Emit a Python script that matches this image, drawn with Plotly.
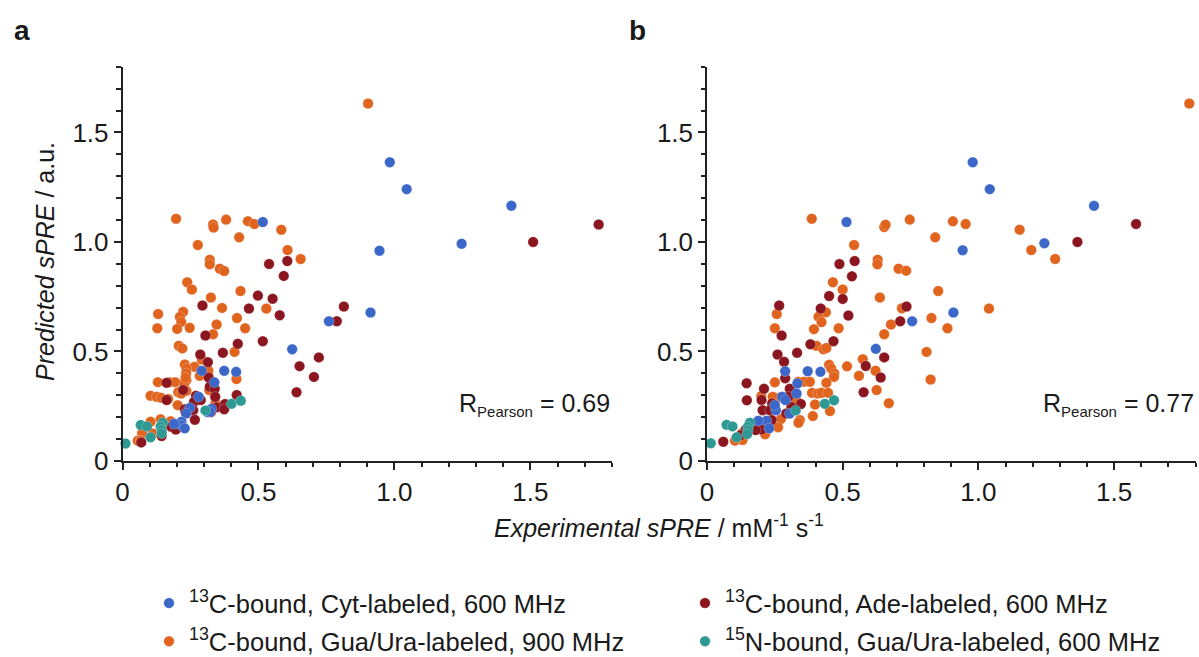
import plotly.graph_objects as go

W, H = 1199, 657

# ---------------- data ----------------
series_names = [
    "<sup>13</sup>C-bound, Cyt-labeled, 600 MHz",
    "<sup>13</sup>C-bound, Gua/Ura-labeled, 900 MHz",
    "<sup>13</sup>C-bound, Ade-labeled, 600 MHz",
    "<sup>15</sup>N-bound, Gua/Ura-labeled, 600 MHz",
]
series_colors = ["#3B67C9", "#E1641E", "#8C1620", "#2E9993"]

# Panel a
a_cyt_x = [0.983, 1.045, 1.430, 1.247, 0.945, 0.516, 0.759, 0.912, 0.624, 0.418, 0.374, 0.291, 0.338,
           0.280, 0.248, 0.234, 0.313, 0.327, 0.217, 0.215, 0.229, 0.144, 0.321, 0.190]
a_cyt_y = [1.364, 1.241, 1.165, 0.992, 0.960, 1.091, 0.638, 0.678, 0.510, 0.407, 0.412, 0.412, 0.359,
           0.293, 0.243, 0.217, 0.223, 0.238, 0.179, 0.164, 0.149, 0.131, 0.225, 0.170]

a_gua_x = [0.903, 0.655, 0.461, 0.485, 0.429, 0.584, 0.607, 0.434, 0.529, 0.421, 0.451, 0.412, 0.419,
           0.197, 0.333, 0.335, 0.381, 0.277, 0.321, 0.321, 0.358, 0.374, 0.238, 0.255, 0.325, 0.366,
           0.223, 0.131, 0.211, 0.216, 0.128, 0.201, 0.247, 0.346, 0.333, 0.207, 0.220, 0.292, 0.229,
           0.265, 0.235, 0.316, 0.234, 0.284, 0.235, 0.130, 0.174, 0.194, 0.227, 0.319, 0.205, 0.235,
           0.216, 0.103, 0.126, 0.142, 0.168, 0.203, 0.342, 0.177, 0.140, 0.103, 0.072, 0.111, 0.056,
           0.067, 0.232]
a_gua_y = [1.632, 0.922, 1.095, 1.082, 1.021, 1.056, 0.963, 0.776, 0.696, 0.653, 0.606, 0.498, 0.374,
           1.106, 1.080, 1.066, 1.102, 0.986, 0.919, 0.898, 0.878, 0.867, 0.816, 0.783, 0.746, 0.699,
           0.681, 0.671, 0.658, 0.635, 0.606, 0.603, 0.608, 0.623, 0.579, 0.526, 0.514, 0.463, 0.441,
           0.430, 0.422, 0.412, 0.400, 0.389, 0.369, 0.360, 0.360, 0.360, 0.354, 0.324, 0.314, 0.320,
           0.308, 0.298, 0.293, 0.289, 0.283, 0.255, 0.264, 0.182, 0.191, 0.179, 0.126, 0.126, 0.093,
           0.093, 0.380]

a_ade_x = [1.751, 1.510, 0.814, 0.788, 0.722, 0.651, 0.704, 0.640, 0.539, 0.606, 0.593, 0.498, 0.552,
           0.465, 0.578, 0.424, 0.516, 0.420, 0.294, 0.305, 0.369, 0.286, 0.314, 0.317, 0.162, 0.321,
           0.339, 0.223, 0.270, 0.341, 0.162, 0.263, 0.288, 0.346, 0.377, 0.374, 0.260, 0.229, 0.232,
           0.325, 0.266, 0.179, 0.196, 0.144, 0.069]
a_ade_y = [1.080, 1.000, 0.705, 0.638, 0.473, 0.433, 0.384, 0.314, 0.899, 0.913, 0.845, 0.755, 0.741,
           0.696, 0.665, 0.535, 0.547, 0.301, 0.710, 0.573, 0.494, 0.486, 0.451, 0.381, 0.357, 0.339,
           0.330, 0.324, 0.298, 0.293, 0.278, 0.270, 0.278, 0.245, 0.260, 0.236, 0.232, 0.236, 0.222,
           0.223, 0.188, 0.156, 0.144, 0.114, 0.085]

a_n15_x = [0.011, 0.067, 0.090, 0.103, 0.148, 0.140, 0.144, 0.144, 0.305, 0.401, 0.435]
a_n15_y = [0.080, 0.164, 0.158, 0.108, 0.175, 0.157, 0.141, 0.126, 0.231, 0.261, 0.275]

# Panel b
b_cyt_x = [0.979, 1.042, 1.426, 1.243, 0.942, 0.514, 0.908, 0.756, 0.622, 0.288, 0.371, 0.418, 0.333,
           0.330, 0.277, 0.289, 0.254, 0.250, 0.305, 0.219, 0.229, 0.189]
b_cyt_y = [1.364, 1.241, 1.165, 0.994, 0.962, 1.091, 0.678, 0.638, 0.512, 0.410, 0.410, 0.407, 0.354,
           0.308, 0.293, 0.278, 0.232, 0.255, 0.217, 0.184, 0.149, 0.184]

b_gua_x = [1.777, 1.195, 1.283, 1.152, 0.747, 0.906, 0.953, 0.653, 0.658, 0.841, 0.706, 0.734, 0.852,
           0.718, 0.827, 1.039, 0.678, 0.653, 0.886, 0.809, 0.824, 0.670, 0.386, 0.542, 0.629, 0.628,
           0.464, 0.500, 0.637, 0.257, 0.438, 0.411, 0.422, 0.250, 0.394, 0.485, 0.403, 0.429, 0.440,
           0.574, 0.516, 0.450, 0.458, 0.469, 0.468, 0.560, 0.621, 0.250, 0.336, 0.358, 0.379, 0.440,
           0.625, 0.387, 0.409, 0.422, 0.446, 0.398, 0.453, 0.390, 0.342, 0.337, 0.327, 0.200, 0.268,
           0.242, 0.272, 0.197, 0.195, 0.214, 0.262, 0.128, 0.131, 0.103]
b_gua_y = [1.632, 0.963, 0.922, 1.056, 1.102, 1.094, 1.082, 1.068, 1.079, 1.021, 0.878, 0.869, 0.776,
           0.697, 0.653, 0.696, 0.623, 0.579, 0.606, 0.498, 0.372, 0.264, 1.106, 0.986, 0.919, 0.898,
           0.816, 0.783, 0.746, 0.671, 0.679, 0.659, 0.634, 0.606, 0.602, 0.606, 0.526, 0.510, 0.516,
           0.465, 0.432, 0.439, 0.422, 0.400, 0.384, 0.389, 0.412, 0.359, 0.362, 0.362, 0.362, 0.357,
           0.324, 0.311, 0.308, 0.311, 0.311, 0.258, 0.228, 0.205, 0.187, 0.175, 0.284, 0.296, 0.290,
           0.293, 0.191, 0.172, 0.156, 0.122, 0.154, 0.126, 0.096, 0.093]

b_ade_x = [1.581, 1.365, 0.735, 0.712, 0.653, 0.640, 0.488, 0.544, 0.534, 0.450, 0.500, 0.266, 0.419,
           0.521, 0.275, 0.381, 0.466, 0.260, 0.332, 0.284, 0.585, 0.288, 0.146, 0.147, 0.577, 0.305,
           0.300, 0.311, 0.346, 0.201, 0.210, 0.240, 0.205, 0.232, 0.292, 0.238, 0.201, 0.179, 0.143,
           0.124, 0.060]
b_ade_y = [1.082, 1.000, 0.705, 0.638, 0.473, 0.381, 0.899, 0.913, 0.843, 0.753, 0.740, 0.710, 0.696,
           0.664, 0.573, 0.533, 0.547, 0.486, 0.494, 0.453, 0.434, 0.378, 0.355, 0.277, 0.314, 0.330,
           0.293, 0.247, 0.260, 0.278, 0.330, 0.263, 0.232, 0.232, 0.217, 0.187, 0.144, 0.141, 0.144,
           0.118, 0.088]

b_n15_x = [0.014, 0.072, 0.094, 0.109, 0.158, 0.151, 0.151, 0.148, 0.327, 0.434, 0.468]
b_n15_y = [0.081, 0.165, 0.158, 0.108, 0.175, 0.156, 0.141, 0.123, 0.231, 0.261, 0.277]

pearson = ["0.69", "0.77"]
major_ticks = [0, 0.5, 1.0, 1.5]
major_text = ["0", "0.5", "1.0", "1.5"]
panel_labels = ["a", "b"]

# ---------------- figure ----------------
FONT = "Liberation Sans, Arial, sans-serif"
TXT = "#1a1a1a"


def px_x(p):
    return p / W


def px_y(p):
    return 1 - p / H


fig = go.Figure()

panels = [
    ("x", "y", [(a_cyt_x, a_cyt_y), (a_gua_x, a_gua_y), (a_ade_x, a_ade_y), (a_n15_x, a_n15_y)]),
    ("x2", "y2", [(b_cyt_x, b_cyt_y), (b_gua_x, b_gua_y), (b_ade_x, b_ade_y), (b_n15_x, b_n15_y)]),
]
legend_of = ["legend", "legend", "legend2", "legend2"]
draw_order = [1, 2, 0, 3]
for pi, (xa, ya, data) in enumerate(panels):
    for si in draw_order:
        xs, ys = data[si]
        fig.add_trace(go.Scatter(
            x=xs, y=ys, mode="markers", xaxis=xa, yaxis=ya,
            name=series_names[si], legend=legend_of[si],
            legendrank=si + 1, legendgroup=f"g{si}",
            showlegend=(pi == 0),
            cliponaxis=False,
            marker=dict(size=10.5, color=series_colors[si],
                        line=dict(width=0.3, color="rgba(255,255,255,0.8)")),
        ))

axis_common = dict(
    range=[0, 1.8], showgrid=False, zeroline=False,
    showline=True, linecolor="#222", linewidth=1.5,
    ticks="outside", ticklen=7, tickwidth=1.5, tickcolor="#222",
    tickmode="array", tickvals=major_ticks, ticktext=major_text,
    tickfont=dict(size=26, color=TXT, family=FONT),
    automargin=False,
    minor=dict(dtick=0.1, tick0=0, ticks="outside", ticklen=4.5,
               tickwidth=1.5, tickcolor="#222"),
)

yd = [px_y(461), px_y(66.7)]
leg_common = dict(yanchor="top", xanchor="left",
                  font=dict(size=25.5, color=TXT, family=FONT), bgcolor="rgba(0,0,0,0)",
                  tracegroupgap=2, itemwidth=30, traceorder="grouped")
fig.update_layout(
    width=W, height=H,
    margin=dict(l=0, r=0, t=0, b=0, pad=0, autoexpand=False),
    paper_bgcolor="white", plot_bgcolor="white",
    font=dict(family=FONT, color=TXT),
    xaxis=dict(domain=[px_x(122.5), px_x(612)], anchor="y", **axis_common),
    yaxis=dict(domain=yd, anchor="x", **axis_common),
    xaxis2=dict(domain=[px_x(707), px_x(1195.5)], anchor="y2", **axis_common),
    yaxis2=dict(domain=yd, anchor="x2", **axis_common),
    legend=dict(x=px_x(149), y=px_y(580), **leg_common),
    legend2=dict(x=px_x(685), y=px_y(580), **leg_common),
    showlegend=True,
)

ann = []
for lab, xp in zip(panel_labels, [12, 627]):
    ann.append(dict(text=f"<b>{lab}</b>", x=px_x(xp), y=px_y(31), xref="paper", yref="paper",
                    xanchor="left", yanchor="middle", showarrow=False,
                    font=dict(size=28, color=TXT, family=FONT)))
for r, xp in zip(pearson, [612, 1196]):
    ann.append(dict(text=f'R<sub><span style="font-size:15px">Pearson</span></sub> = {r}',
                    x=px_x(xp), y=px_y(404), xref="paper", yref="paper",
                    xanchor="right", yanchor="middle", showarrow=False,
                    font=dict(size=25, color=TXT, family=FONT)))
ann.append(dict(text="<i>Predicted sPRE</i> / a.u.", x=px_x(45), y=px_y(262), xref="paper", yref="paper",
                xanchor="center", yanchor="middle", textangle=-90, showarrow=False,
                font=dict(size=25, color=TXT, family=FONT)))
ann.append(dict(text="<i>Experimental sPRE</i> / mM<sup>-1</sup> s<sup>-1</sup>", x=px_x(659), y=px_y(526),
                xref="paper", yref="paper", xanchor="center", yanchor="middle", showarrow=False,
                font=dict(size=25, color=TXT, family=FONT)))
fig.update_layout(annotations=ann)

fig.write_html("out.html", config={"displayModeBar": False},
               post_script="document.body.style.margin='0';document.body.style.overflow='hidden';")
